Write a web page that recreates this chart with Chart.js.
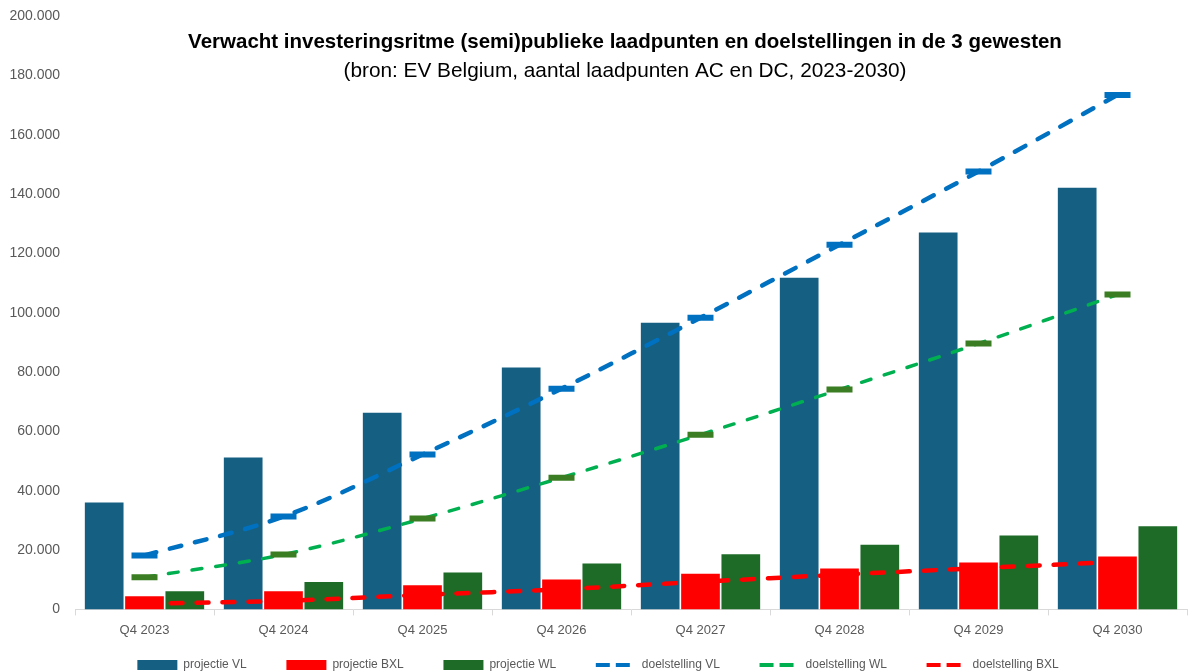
<!DOCTYPE html>
<html>
<head>
<meta charset="utf-8">
<script src="https://cdn.jsdelivr.net/npm/chart.js@4.4.1/dist/chart.umd.min.js"></script>
<style>
  html, body { margin: 0; padding: 0; background: #fff; overflow: hidden; }
  #wrap { width: 1189px; height: 672px; position: relative; }
  canvas { display: block; }
</style>
</head>
<body>
<div id="wrap"><canvas id="chart"></canvas></div>
<script>
// data
const categories = ['Q4 2023', 'Q4 2024', 'Q4 2025', 'Q4 2026', 'Q4 2027', 'Q4 2028', 'Q4 2029', 'Q4 2030'];
const projectieVL = [36000, 51200, 66300, 81500, 96600, 111800, 127000, 142100];
const projectieBXL = [4400, 6100, 8100, 10100, 12000, 13800, 15800, 17800];
const projectieWL = [6100, 9200, 12400, 15500, 18600, 21800, 24900, 28000];
const doelVL = [18200, 31300, 52200, 74400, 98300, 122900, 147600, 173400];
const doelWL = [10800, 18500, 30600, 44400, 58900, 74100, 89600, 106100];
const doelBXL = [1900, 2900, 4900, 6800, 9300, 11700, 13900, 16000];

const titleText = 'Verwacht investeringsritme (semi)publieke laadpunten en doelstellingen in de 3 gewesten';
const subtitleText = '(bron: EV Belgium, aantal laadpunten AC en DC, 2023-2030)';

const fontFamily = "'Liberation Sans', Arial, sans-serif";
const grey = '#595959';

function fmt(v) {
	return String(v).replace(/\B(?=(\d{3})+(?!\d))/g, '.');
}

function barSet(label, data, color) {
	return {
		type: 'bar',
		label,
		data,
		backgroundColor: color,
		borderWidth: 0,
		order: 2,
		categoryPercentage: 0.87,
		barPercentage: 0.96
	};
}

function lineSet(label, data, color, markerColor, width, dash) {
	return {
		type: 'line',
		label,
		data,
		borderColor: color,
		backgroundColor: color,
		borderWidth: width,
		borderDash: dash,
		borderCapStyle: 'round',
		tension: 0.35,
		fill: false,
		pointStyle: 'line',
		pointRadius: 13,
		pointHoverRadius: 13,
		pointBorderWidth: 6,
		pointBorderColor: markerColor,
		pointBackgroundColor: markerColor,
		order: 1
	};
}

// title sits inside the plot area, so draw it ourselves
const titlePlugin = {
	id: 'innerTitle',
	afterDraw(chart) {
		const ctx = chart.ctx;
		const area = chart.chartArea;
		const cx = (area.left + area.right) / 2 - 6;
		ctx.save();
		ctx.fillStyle = '#000';
		ctx.textAlign = 'center';
		ctx.textBaseline = 'middle';
		ctx.font = 'bold 20.5px ' + fontFamily;
		ctx.fillText(titleText, cx, 42);
		ctx.font = '20.8px ' + fontFamily;
		ctx.fillText(subtitleText, cx, 71);
		ctx.restore();
	}
};

// gap after each legend entry, as in the reference
const legendGap = '        ';

const config = {
	data: {
		labels: categories,
		datasets: [
			barSet('projectie VL', projectieVL, '#156082'),
			barSet('projectie BXL', projectieBXL, '#FF0000'),
			barSet('projectie WL', projectieWL, '#1D6B27'),
			lineSet('doelstelling VL', doelVL, '#0070C0', '#0070C0', 4.5, [12, 14]),
			lineSet('doelstelling WL', doelWL, '#00B050', '#3A7D22', 3.5, [10, 14]),
			lineSet('doelstelling BXL', doelBXL, '#FF0000', '#FF0000', 4.5, [12, 14])
		]
	},
	options: {
		responsive: true,
		maintainAspectRatio: false,
		animation: false,
		layout: { autoPadding: false, padding: { top: 0, right: 2, left: 9, bottom: -9 } },
		plugins: {
			title: { display: false },
			tooltip: { enabled: false },
			legend: {
				position: 'bottom',
				sort: (a, b) => a.datasetIndex - b.datasetIndex,
				labels: {
					color: grey,
					font: { family: fontFamily, size: 12 },
					boxWidth: 40,
					boxHeight: 10,
					padding: 13,
					usePointStyle: true,
					pointStyleWidth: 40,
					generateLabels(chart) {
						const sets = chart.data.datasets;
						return sets.map((ds, i) => {
							const isBar = ds.type === 'bar';
							return {
								text: ds.label + (i < sets.length - 1 ? legendGap : ''),
								datasetIndex: i,
								fillStyle: isBar ? ds.backgroundColor : 'rgba(0,0,0,0)',
								strokeStyle: isBar ? ds.backgroundColor : ds.borderColor,
								lineWidth: isBar ? 0 : 4,
								lineDash: isBar ? [] : [14, 6],
								pointStyle: isBar ? 'rect' : 'line',
								fontColor: grey,
								hidden: false
							};
						});
					}
				}
			}
		},
		scales: {
			x: {
				grid: {
					offset: true,
					drawOnChartArea: false,
					drawTicks: true,
					tickLength: 6,
					color: '#D9D9D9'
				},
				border: { display: true, color: '#D9D9D9', width: 1 },
				ticks: {
					color: grey,
					font: { family: fontFamily, size: 13 },
					padding: 7.5
				},
				// labels sit in the middle of the categories, no side padding needed
				afterFit: s => { s.paddingLeft = 0; s.paddingRight = 0; }
			},
			y: {
				min: 0,
				max: 200000,
				grid: { display: false, drawTicks: false },
				border: { display: false },
				ticks: {
					stepSize: 20000,
					color: grey,
					font: { family: fontFamily, size: 14 },
					padding: 15,
					callback: v => fmt(v)
				},
				afterFit: s => { s.width = 66; s.paddingTop = 16; s.paddingBottom = 0; }
			}
		}
	},
	plugins: [titlePlugin]
};

const myChart = new Chart(document.getElementById('chart'), config);
</script>
</body>
</html>
